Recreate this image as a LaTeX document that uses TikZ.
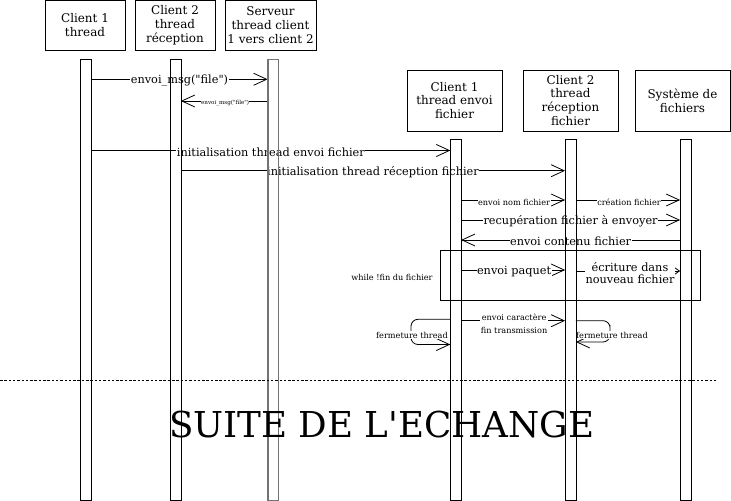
\documentclass[tikz,border=0pt]{standalone}
\usepackage{fontspec}
\setmainfont{DejaVu Serif}
\usetikzlibrary{arrows.meta}
\begin{document}
\begin{tikzpicture}[x=1bp,y=-1bp,
  hdr/.style={draw, line width=0.8bp, align=center, inner sep=0,
    font=\fontsize{12}{14}\selectfont},
  bar/.style={draw, line width=0.8bp, minimum width=10bp, inner sep=0},
  msg/.style={line width=0.8bp, -{Straight Barb[length=13bp,width=12bp,line width=0.8bp]}},
  msgsm/.style={line width=0.8bp, -{Straight Barb[length=5bp,width=7bp,line width=0.8bp]}},
  lbl/.style={fill=white, inner sep=0.5bp, font=\fontsize{11.35}{12.5}\selectfont, align=center},
  sml/.style={fill=white, inner sep=0.5bp, font=\fontsize{8.2}{13.7}\selectfont, align=center},
  tiny/.style={fill=white, inner sep=0.3bp, font=\fontsize{5.6}{6}\selectfont},
  frame/.style={draw, line width=0.8bp, inner sep=0}
]
\useasboundingbox (0,0) rectangle (731,501);

% headers
\node[hdr, minimum width=80bp, minimum height=50bp] (h1) at (85,25.5) {Client 1\\thread};
\node[hdr, minimum width=80bp, minimum height=50bp] (h2) at (175,25.5) {Client 2\\thread\\réception};
\node[hdr, minimum width=91bp, minimum height=50bp] (h3) at (270.5,25.5) {Serveur\\thread client\\1 vers client 2};
\node[hdr, minimum width=95bp, minimum height=61bp] (h4) at (454.5,100.5) {Client 1\\thread envoi\\fichier};
\node[hdr, minimum width=95bp, minimum height=61bp] (h5) at (570.5,100.5) {Client 2\\thread\\réception\\fichier};
\node[hdr, minimum width=95bp, minimum height=61bp] (h6) at (682.5,100.5) {Système de\\fichiers};

% lifeline bars (shape only, outlines drawn later)
\path node[bar, draw=none, minimum height=440bp] (b1) at (86,280) {}
      node[bar, draw=none, minimum height=440bp] (b2) at (175.5,280) {}
      node[bar, draw=none, minimum height=440bp] (b3) at (273,280) {}
      node[bar, draw=none, minimum height=360bp] (b4) at (455.7,320) {}
      node[bar, draw=none, minimum height=360bp] (b5) at (570.5,320) {}
      node[bar, draw=none, minimum height=360bp] (b6) at (685.5,320) {};

% messages
\draw[msg] (b1.east |- 0,79.3) -- node[lbl, yshift=-1bp] (m1) {envoi\_msg(\textquotedbl file\textquotedbl)} (b3.west |- 0,79.3);
\draw[msg] (b3.west |- 0,101) -- node[tiny, pos=0.49, yshift=-2.5bp] (m2) {envoi\_msg(\textquotedbl file\textquotedbl)} (b2.east |- 0,101);
\draw[msg] (b1.east |- 0,150.5) -- node[lbl, yshift=-1.5bp] (m3) {initialisation thread envoi fichier} (b4.west |- 0,150.5);
\draw[msg] (b2.east |- 0,170.7) -- node[lbl, yshift=-1.5bp] (m4) {initialisation thread réception fichier} (b5.west |- 0,170.7);
\draw[msg] (b4.east |- 0,200) -- node[sml, yshift=-2.5bp, xshift=1bp] (m5) {envoi nom fichier} (b5.west |- 0,200);
\draw[msg] (b5.east |- 0,200) -- node[sml, yshift=-2.5bp, xshift=1bp] (m6) {création fichier} (b6.west |- 0,200);
\draw[msg] (b4.east |- 0,220) -- node[lbl, yshift=-1.5bp] (m7) {recupération fichier à envoyer} (b6.west |- 0,220);
\draw[msg] (b6.west |- 0,240) -- node[lbl, yshift=-1bp] (m8) {envoi contenu fichier} (b4.east |- 0,240);

% loop frame
\node[frame, minimum width=260bp, minimum height=50bp] (loop) at (570,275) {};
\node[sml, fill=none] (while) at (392,277) {while !fin du fichier};

\draw[msg] (b4.east |- 0,270) -- node[lbl, yshift=-1.5bp, xshift=1bp] (m9) {envoi paquet} (b5.west |- 0,270);
\draw[msgsm] (b5.east |- 0,271) -- node[lbl, yshift=-2bp, xshift=2bp] (m10) {écriture dans\\nouveau fichier} (b6.west |- 0,271);

\draw[msg] (b4.east |- 0,320.7) -- node[sml, yshift=-3bp, xshift=1bp] (m11) {envoi caractère\\fin transmission} (b5.west |- 0,320.7);

% self calls
\draw[msg, rounded corners=7bp] (b4.west |- 0,319.3) -| (411,332) |- (b4.west |- 0,344.5);
\node[sml] (f1) at (412,335) {fermeture thread};
\draw[msg, rounded corners=7bp] (b5.east |- 0,320.7) -| (610,332) |- (b5.east |- 0,342);
\node[sml] (f2) at (612,335) {fermeture thread};

% bar outlines on top
\foreach \b in {b1,b2,b4,b5,b6}{
  \draw[line width=0.8bp] (\b.north west) rectangle (\b.south east);
}
\draw[line width=1.8bp, draw=black!55] (b3.north west) rectangle (b3.south east);

% separator
\coordinate (dl) at (0,380);
\coordinate (dr) at (718,380);
\draw[line width=0.8bp, dash pattern=on 2.5bp off 1.8bp] (dl) -- (dr);

\node[anchor=base, inner sep=0, font=\fontsize{35.8}{40}\selectfont] (suite) at (381.7,437.3) {SUITE DE L\textquotesingle ECHANGE};
\end{tikzpicture}
\end{document}
